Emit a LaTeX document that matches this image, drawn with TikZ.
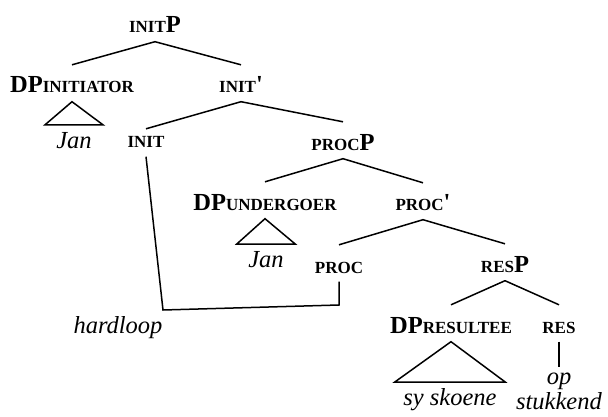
\documentclass[tikz,border=0pt]{standalone}
\usepackage{fontspec}
\setmainfont{Liberation Serif}
\usepackage{xcolor}
\usepackage{tikz}
\definecolor{INK}{HTML}{000000}
\newcommand{\smc}[1]{{\fontsize{17}{17}\selectfont #1}}

\begin{document}
\begin{tikzpicture}[
    x=1pt, y=-1pt,
    cat/.style={font=\bfseries\fontsize{24.5}{26}\selectfont, text=INK, anchor=base, inner sep=0pt, text height=28pt, text depth=8.5pt},
    word/.style={font=\itshape\fontsize{24.5}{26}\selectfont, text=INK, inner xsep=0pt, inner ysep=6pt},
    leaf/.style={word, anchor=north, text height=17pt, text depth=6pt},
    br/.style={draw=INK, line width=1.5pt},
    roof/.style={br, line join=miter},
  ]
  \useasboundingbox (0,0) rectangle (608,417);

  % ===== labels =====
  \node[cat] (initP) at (155,33)  {\smc{INIT}P};
  \node[cat] (dpI)   at (72,93)   {DP\smc{INITIATOR}};
  \node[cat] (initB) at (241,93)  {\smc{INIT}\textquotesingle};
  \node[cat] (init)  at (146,148) {\smc{INIT}};
  \node[cat] (procP) at (343,150) {\smc{PROC}P};
  \node[cat] (dpU)   at (265,210) {DP\smc{UNDERGOER}};
  \node[cat] (procB) at (423,211) {\smc{PROC}\textquotesingle};
  \node[cat] (proc)  at (339,273) {\smc{PROC}};
  \node[cat] (resP)  at (505,272) {\smc{RES}P};
  \node[cat] (dpR)   at (451,333) {DP\smc{RESULTEE}};
  \node[cat] (res)   at (559,333) {\smc{RES}};

  % ===== words =====
  \node[leaf, minimum width=58pt]  (jan1)   at (74,125)  {Jan};
  \node[leaf, minimum width=58pt]  (jan2)   at (266,244) {Jan};
  \node[leaf, minimum width=110pt] (skoene) at (450,382) {sy skoene};
  \node[word, anchor=base] (hard) at (118,333) {hardloop};
  \node[word, anchor=north, align=center, inner ysep=0pt] (stuk) at (559,373) {op\\[-1pt]stukkend};

  % ===== branches =====
  \draw[br] (initP.south) -- (dpI.north);
  \draw[br] (initP.south) -- (initB.north);
  \draw[br] (initB.south) -- ([yshift=-9pt]init.north);
  \draw[br] (initB.south) -- (procP.north);
  \draw[br] (procP.south) -- (dpU.north);
  \draw[br] (procP.south) -- (procB.north);
  \draw[br] (procB.south) -- (proc.north);
  \draw[br] (procB.south) -- (resP.north);
  \draw[br] (resP.south) -- (dpR.north);
  \draw[br] (resP.south) -- (res.north);
  \draw[br] (res.south) -- ([yshift=6pt]stuk.north);

  % roofs
  \draw[roof] (dpI.south) -- (jan1.north west) -- (jan1.north east) -- cycle;
  \draw[roof] (dpU.south) -- (jan2.north west) -- (jan2.north east) -- cycle;
  \draw[roof] (dpR.south) -- (skoene.north west) -- (skoene.north east) -- cycle;

  % init and proc share hardloop
  \coordinate (t1) at (163,310);
  \coordinate (t2) at (339,305);
  \draw[br] (init.south) -- (t1) -- (t2) -- (proc.south);

\end{tikzpicture}
\end{document}
